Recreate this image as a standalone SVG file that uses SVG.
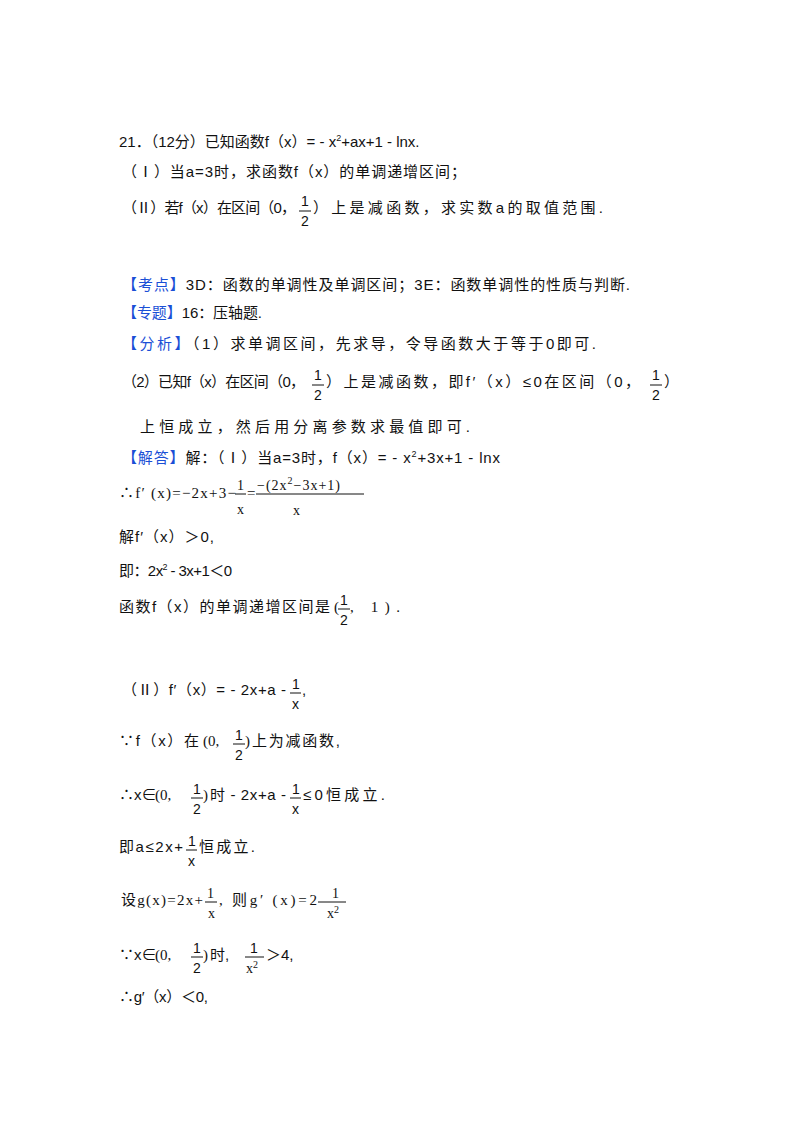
<svg xmlns="http://www.w3.org/2000/svg" width="800" height="1132" viewBox="0 0 800 1132">
<style>
text{font-family:"Liberation Sans","Noto Sans CJK SC",sans-serif;font-size:15px;fill:#111}
.s{font-family:"Liberation Serif","Noto Sans CJK SC",serif}
.b{fill:#1a4fd6}
.f{font-size:14px}
line{stroke:#111;stroke-width:1}
</style>
<rect width="800" height="1132" fill="#fff"/>
<g id="question">
<text x="119" y="147">21．（12分）已知函数f（x）= - x<tspan dy="-6" font-size="9">2</tspan><tspan dy="6">+ax+1 - lnx.</tspan></text>
<text x="122" y="177" textLength="344" lengthAdjust="spacing">（Ⅰ）当a=3时，求函数f（x）的单调递增区间；</text>
<text x="122" y="213" textLength="174" lengthAdjust="spacing">（Ⅱ）若f（x）在区间（0，</text><text x="301" y="206" class="f">1</text><line x1="299" y1="211" x2="311" y2="211"/><text x="301" y="226" class="f">2</text><text x="313" y="213" textLength="290" lengthAdjust="spacing">）上是减函数，求实数a的取值范围.</text>
</g>
<g id="analysis">
<text x="122" y="290" textLength="508" lengthAdjust="spacing"><tspan class="b">【考点】</tspan>3D：函数的单调性及单调区间；3E：函数单调性的性质与判断.</text>
<text x="122" y="318" textLength="140" lengthAdjust="spacing"><tspan class="b">【专题】</tspan>16：压轴题.</text>
<text x="122" y="349" textLength="474" lengthAdjust="spacing"><tspan class="b">【分析】</tspan>（1）求单调区间，先求导，令导函数大于等于0即可.</text>
<text x="122" y="387" textLength="183" lengthAdjust="spacing">（2）已知f（x）在区间（0，</text><text x="314" y="380" class="f">1</text><line x1="312" y1="385" x2="324" y2="385"/><text x="314" y="400" class="f">2</text><text x="326" y="387" textLength="314" lengthAdjust="spacing">）上是减函数，即f′（x）≤0在区间（0，</text><text x="652" y="380" class="f">1</text><line x1="650" y1="385" x2="662" y2="385"/><text x="652" y="400" class="f">2</text><text x="664" y="387">）</text>
<text x="140" y="432" textLength="330" lengthAdjust="spacing">上恒成立，然后用分离参数求最值即可.</text>
</g>
<g id="solution">
<text x="122" y="463" textLength="378" lengthAdjust="spacing"><tspan class="b">【解答】</tspan>解：（Ⅰ）当a=3时，f（x）= - x<tspan dy="-6" font-size="9">2</tspan><tspan dy="6">+3x+1 - lnx</tspan></text>
<text x="119" y="498" class="s" textLength="117" lengthAdjust="spacing">∴f′ (x)=−2x+3−</text><text x="237" y="490" class="s f">1</text><line x1="235" y1="494" x2="246" y2="494"/><text x="237" y="514" class="s f">x</text><text x="247" y="498" class="s">=</text><text x="257" y="490" class="s f" textLength="83" lengthAdjust="spacing">−(2x<tspan dy="-6" font-size="10">2</tspan><tspan dy="6">−3x+1)</tspan></text><line x1="256" y1="494" x2="364" y2="494"/><text x="293" y="515" class="s f">x</text>
<text x="119" y="542" textLength="95" lengthAdjust="spacing">解f′（x）＞0,</text>
<text x="119" y="576" textLength="113" lengthAdjust="spacing">即：2x<tspan dy="-6" font-size="9">2</tspan><tspan dy="6"> - 3x+1＜0</tspan></text>
<text x="119" y="612" textLength="211" lengthAdjust="spacing">函数f（x）的单调递增区间是</text><text x="334" y="612" class="s">(</text><text x="340" y="605" class="f">1</text><line x1="338" y1="609" x2="350" y2="609"/><text x="340" y="625" class="f">2</text><text x="350" y="612" class="s" textLength="50" lengthAdjust="spacing">,   1).</text>
<text x="122" y="695" textLength="164" lengthAdjust="spacing">（Ⅱ）f′（x）= - 2x+a - </text><text x="292" y="689" class="f">1</text><line x1="290" y1="693" x2="301" y2="693"/><text x="292" y="709" class="f">x</text><text x="302" y="695">,</text>
<text x="119" y="746" textLength="80" lengthAdjust="spacing">∵f（x）在</text><text x="203" y="746" class="s">(0,</text><text x="235" y="740" class="f">1</text><line x1="233" y1="744" x2="245" y2="744"/><text x="235" y="760" class="f">2</text><text x="245" y="746" class="s">)</text><text x="252" y="746" textLength="88" lengthAdjust="spacing">上为减函数,</text>
<text x="119" y="800">∴x∈</text><text x="155" y="800" class="s">(0,</text><text x="193" y="794" class="f">1</text><line x1="191" y1="798" x2="203" y2="798"/><text x="193" y="814" class="f">2</text><text x="203" y="800" class="s">)</text><text x="210" y="800" textLength="76" lengthAdjust="spacing">时 - 2x+a - </text><text x="292" y="794" class="f">1</text><line x1="290" y1="798" x2="301" y2="798"/><text x="292" y="814" class="f">x</text><text x="303" y="800" textLength="82" lengthAdjust="spacing">≤0恒成立.</text>
<text x="119" y="852" textLength="64" lengthAdjust="spacing">即a≤2x+</text><text x="188" y="846" class="f">1</text><line x1="186" y1="850" x2="197" y2="850"/><text x="188" y="866" class="f">x</text><text x="199" y="852" textLength="56" lengthAdjust="spacing">恒成立.</text>
<text x="121" y="905" class="s" textLength="82" lengthAdjust="spacing">设g(x)=2x+</text><text x="207" y="898" class="s f">1</text><line x1="205" y1="902" x2="217" y2="902"/><text x="208" y="918" class="s f">x</text><text x="219" y="905" class="s" textLength="98" lengthAdjust="spacing">,  则g′ (x)=2</text><line x1="318" y1="902" x2="346" y2="902"/><text x="332" y="898" class="s f">1</text><text x="327" y="918" class="s f">x<tspan dy="-5" font-size="10">2</tspan></text>
<text x="119" y="960">∵x∈</text><text x="155" y="960" class="s">(0,</text><text x="193" y="953" class="f">1</text><line x1="191" y1="957" x2="203" y2="957"/><text x="193" y="973" class="f">2</text><text x="203" y="960" class="s">)</text><text x="210" y="960">时,</text><text x="250" y="953" class="f">1</text><line x1="245" y1="957" x2="264" y2="957"/><text x="246" y="973" class="s f">x<tspan dy="-5" font-size="10">2</tspan></text><text x="266" y="960">＞4,</text>
<text x="119" y="1002" textLength="89" lengthAdjust="spacing">∴g′（x）＜0,</text>
</g>
</svg>
